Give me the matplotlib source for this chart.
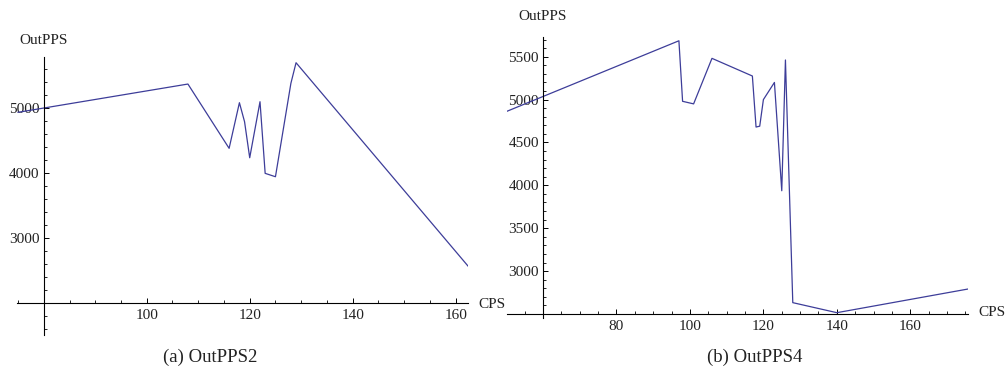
import matplotlib
matplotlib.use("Agg")
import matplotlib.pyplot as plt
from matplotlib.ticker import MultipleLocator

plt.rcParams['font.family'] = ['Liberation Serif', 'DejaVu Serif']

# Panel (a) OutPPS2
cps_a = [75, 108, 116, 118, 119, 120, 122, 123, 125, 128, 129, 162.4]
out_a = [4934, 5369, 4380, 5082, 4789, 4235, 5097, 3995, 3943, 5380, 5697, 2569]

# Panel (b) OutPPS4
cps_b = [50.2, 97, 98, 101, 106, 117, 118, 119, 120, 123, 125, 126, 128, 140, 175.7]
out_b = [4864, 5686, 4980, 4950, 5481, 5275, 4680, 4690, 5000, 5200, 3937, 5462, 2632, 2515, 2791]

xticks_a = [100, 120, 140, 160]
yticks_a = [3000, 4000, 5000]
xticks_b = [80, 100, 120, 140, 160]
yticks_b = [3000, 3500, 4000, 4500, 5000, 5500]

captions = ["(a) OutPPS2", "(b) OutPPS4"]
xlabel = "CPS"
ylabel = "OutPPS"

W, H = 1007, 371
fig = plt.figure(figsize=(W / 100, H / 100), dpi=100)

line_color = '#3d3d99'
text_color = '#222222'


def make_axes(px_left, px_right, px_top, px_bottom):
    return fig.add_axes([px_left / W, 1 - px_bottom / H,
                         (px_right - px_left) / W, (px_bottom - px_top) / H])


def style(ax, x0, y0, xmin, ymin, xt, yt):
    for s in ['top', 'right']:
        ax.spines[s].set_visible(False)
    ax.spines['left'].set_position(('data', x0))
    ax.spines['bottom'].set_position(('data', y0))
    ax.spines['left'].set_linewidth(0.8)
    ax.spines['bottom'].set_linewidth(0.8)
    ax.patch.set_alpha(0)
    ax.set_xticks(xt)
    ax.set_yticks(yt)
    ax.xaxis.set_minor_locator(MultipleLocator(xmin))
    ax.yaxis.set_minor_locator(MultipleLocator(ymin))
    ax.tick_params(which='major', direction='in', length=3.5, width=0.7,
                   labelsize=11, pad=4, labelcolor=text_color)
    ax.tick_params(which='minor', direction='in', length=2, width=0.6)
    ax.tick_params(axis='y', which='both', pad=3)


# Panel (a)
axa = make_axes(17, 468, 57, 335)
axa.plot(cps_a, out_a, color=line_color, lw=0.9)
axa.set_xlim(74.8, 162.4)
axa.set_ylim(1508, 5785)
style(axa, 80, 2000, 5, 200, xticks_a, yticks_a)
fig.text(19 / W, 1 - 41 / H, ylabel, fontsize=11, ha='left', va='center', color=text_color)
fig.text(478 / W, 1 - 304 / H, xlabel, fontsize=11, ha='left', va='center', color=text_color)
fig.text(210 / W, 1 - 357 / H, captions[0], fontsize=13.5, ha='center', va='center', color=text_color)

# Panel (b)
axb = make_axes(507, 968, 37, 318)
axb.plot(cps_b, out_b, color=line_color, lw=0.9)
axb.set_xlim(50.2, 175.7)
axb.set_ylim(2453, 5730)
style(axb, 60, 2500, 5, 100, xticks_b, yticks_b)
fig.text(518 / W, 1 - 17 / H, ylabel, fontsize=11, ha='left', va='center', color=text_color)
fig.text(978 / W, 1 - 313 / H, xlabel, fontsize=11, ha='left', va='center', color=text_color)
fig.text(755 / W, 1 - 357 / H, captions[1], fontsize=13.5, ha='center', va='center', color=text_color)

fig.savefig("out.png", dpi=100)
